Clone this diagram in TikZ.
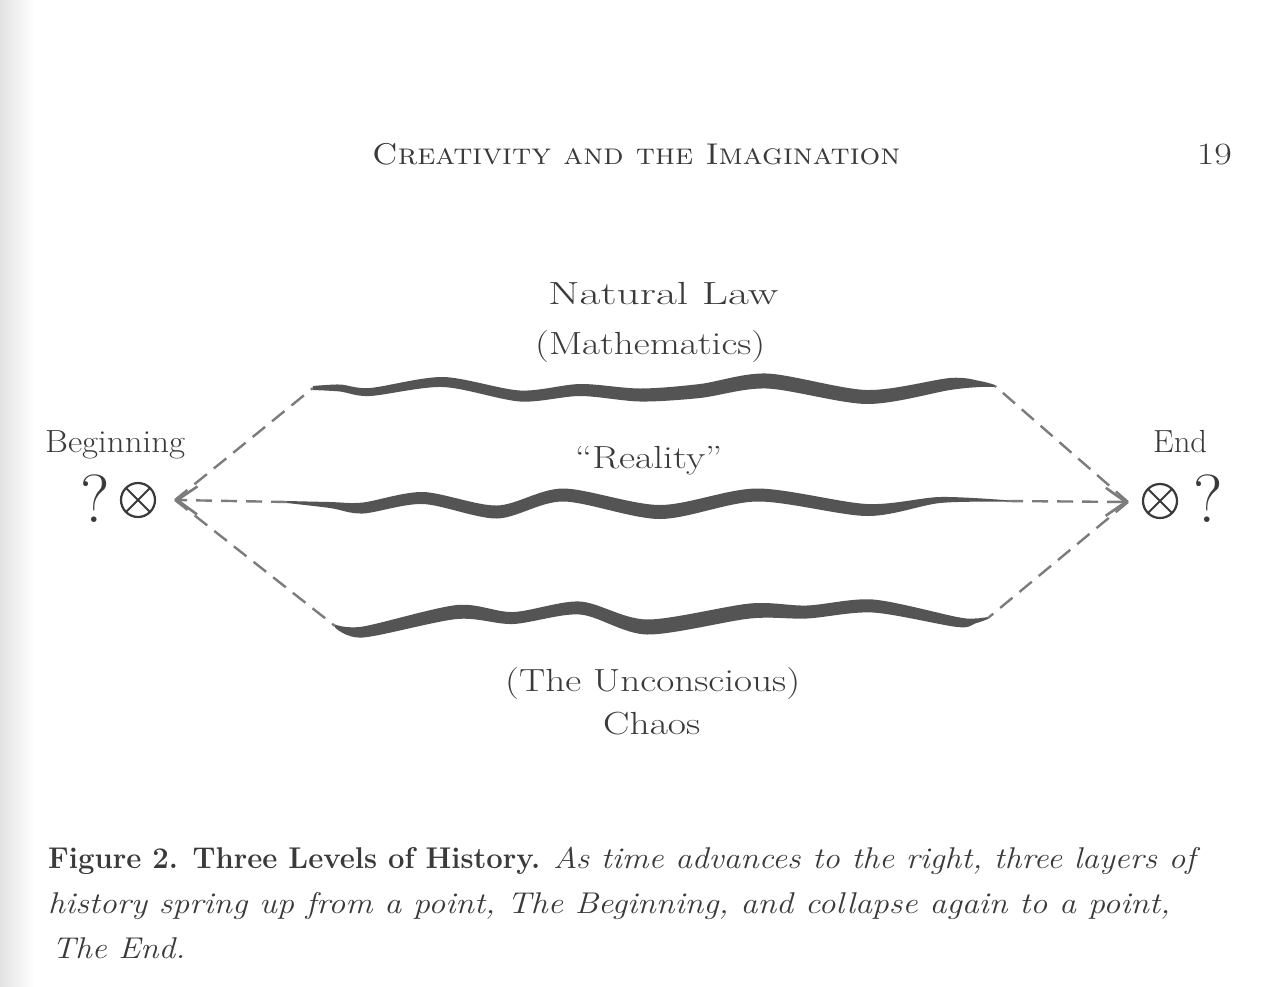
\documentclass[tikz,border=0pt]{standalone}
\usepackage{fontspec}
\usepackage{graphicx}
\usetikzlibrary{arrows.meta}
\definecolor{ink}{HTML}{3A3A3A}
\definecolor{wave}{HTML}{545454}
\definecolor{dashc}{HTML}{7C7C7C}
\newcommand{\fitw}[2]{\resizebox{#1}{\height}{#2}}
\begin{document}
\begin{tikzpicture}[x=1pt,y=-1pt,
  lbl/.style={font=\fontsize{32}{34}\selectfont, text=ink, inner sep=0pt},
  capt/.style={font=\fontsize{30}{32}\selectfont, text=ink, inner sep=0pt, anchor=base west},
  qm/.style={font=\fontsize{68}{70}\selectfont, text=ink, inner sep=0pt, anchor=base},
  otim/.style={circle, draw=ink, line width=2.2pt, minimum size=34pt, inner sep=0pt,
    path picture={\draw[ink, line width=2pt] (path picture bounding box.north west) -- (path picture bounding box.south east)
      (path picture bounding box.north east) -- (path picture bounding box.south west);}},
  conn/.style={draw=dashc, line width=2.4pt, dash pattern=on 16pt off 9pt},
  tip/.style={-{Straight Barb[length=20pt,width=28pt,line width=2.6pt]}},
  wavefill/.style={fill=wave}]
\useasboundingbox (0,0) rectangle (1264,986);
\fill[white] (0,0) rectangle (1264,986);
\shade[left color=gray!22, right color=white] (0,0) rectangle (34,986);

% header
\node[font=\fontsize{30}{32}\selectfont, text=ink, inner sep=0pt, anchor=base west] (head) at (372,164) {\fitw{528pt}{\textsc{Creativity and the Imagination}}};
\node[font=\fontsize{31}{32}\selectfont, text=ink, inner sep=0pt, anchor=base east] (page) at (1232,164) {\fitw{35pt}{19}};

% labels
\node[lbl, anchor=base west] (nat) at (548,304) {\fitw{230pt}{Natural Law}};
\node[lbl, anchor=base west] (math) at (535,354) {\fitw{230pt}{(Mathematics)}};
\node[lbl, anchor=base west] (real) at (575,468) {\fitw{147pt}{``Reality''}};
\node[lbl, anchor=base west] (unc) at (505,691) {\fitw{295pt}{(The Unconscious)}};
\node[lbl, anchor=base west] (chaos) at (603,734) {\fitw{97pt}{Chaos}};
\node[lbl, anchor=base west] (beg) at (45,452) {\fitw{140pt}{Beginning}};
\node[lbl, anchor=base west] (endl) at (1153,452) {\fitw{54pt}{End}};

% points
\node[qm] (qL) at (95,522) {?};
\node[otim] (oL) at (138,500) {};
\node[otim] (oR) at (1160,501) {};
\node[qm] (qR) at (1208,522) {?};

\coordinate (L) at (175,500);
\coordinate (R) at (1128,502);
\coordinate (t0) at (313,388); \coordinate (t1) at (995,386);
\coordinate (m0) at (287,502); \coordinate (m1) at (1007,501);
\coordinate (b0) at (335,626); \coordinate (b1) at (988,618);

% waves
\fill[wavefill] plot[smooth] coordinates {(313,386) (340,384.5) (370,388) (443,377) (520,390.5) (580,384) (640,388.5) (700,384) (767,373.5) (867,390) (950,378) (980,381) (995,385)}
  -- plot[smooth] coordinates {(995,387) (980,387) (950,390) (867,404) (767,388.5) (700,398) (640,401.5) (580,396) (520,401.5) (443,387) (370,396) (340,391.5) (313,390)} -- cycle;
\fill[wavefill] plot[smooth] coordinates {(287,501) (330,502) (363,502.5) (423,492) (497,505.5) (563,488.5) (660,505) (757,488.5) (867,504) (940,497) (1007,500.25)}
  -- plot[smooth] coordinates {(1007,501.75) (940,503) (867,516) (757,501.5) (660,519) (563,501.5) (497,518.5) (423,504) (363,513.5) (330,508) (287,503)} -- cycle;
\fill[wavefill] plot[smooth] coordinates {(335,624.5) (363,626.5) (457,605) (513,612) (580,601.5) (647,619.5) (750,603.5) (807,605.5) (873,599.5) (957,617) (975,618.5) (988,617)}
  -- plot[smooth] coordinates {(988,619) (975,623.5) (957,627) (873,612.5) (807,618.5) (750,618.5) (647,634.5) (580,614.5) (513,624) (457,619) (363,637.5) (335,627.5)} -- cycle;

% connectors
\draw[conn] (L) -- (t0);
\draw[conn] (L) -- (b0);
\draw[conn, tip] (m0) -- (L);
\draw[conn] (R) -- (t1);
\draw[conn] (R) -- (b1);
\draw[conn, tip] (m1) -- (R);

% caption
\node[capt] (c1) at (48,868) {\fitw{492pt}{\textbf{Figure 2. Three Levels of History.}}\hspace{13pt}\fitw{647pt}{\textit{As time advances to the right, three layers of}}};
\node[capt] (c2) at (48,913) {\fitw{1122pt}{\textit{history spring up from a point, The Beginning, and collapse again to a point,}}};
\node[capt] (c3) at (52,958) {\fitw{133pt}{\textit{The End.}}};
\end{tikzpicture}
\end{document}
